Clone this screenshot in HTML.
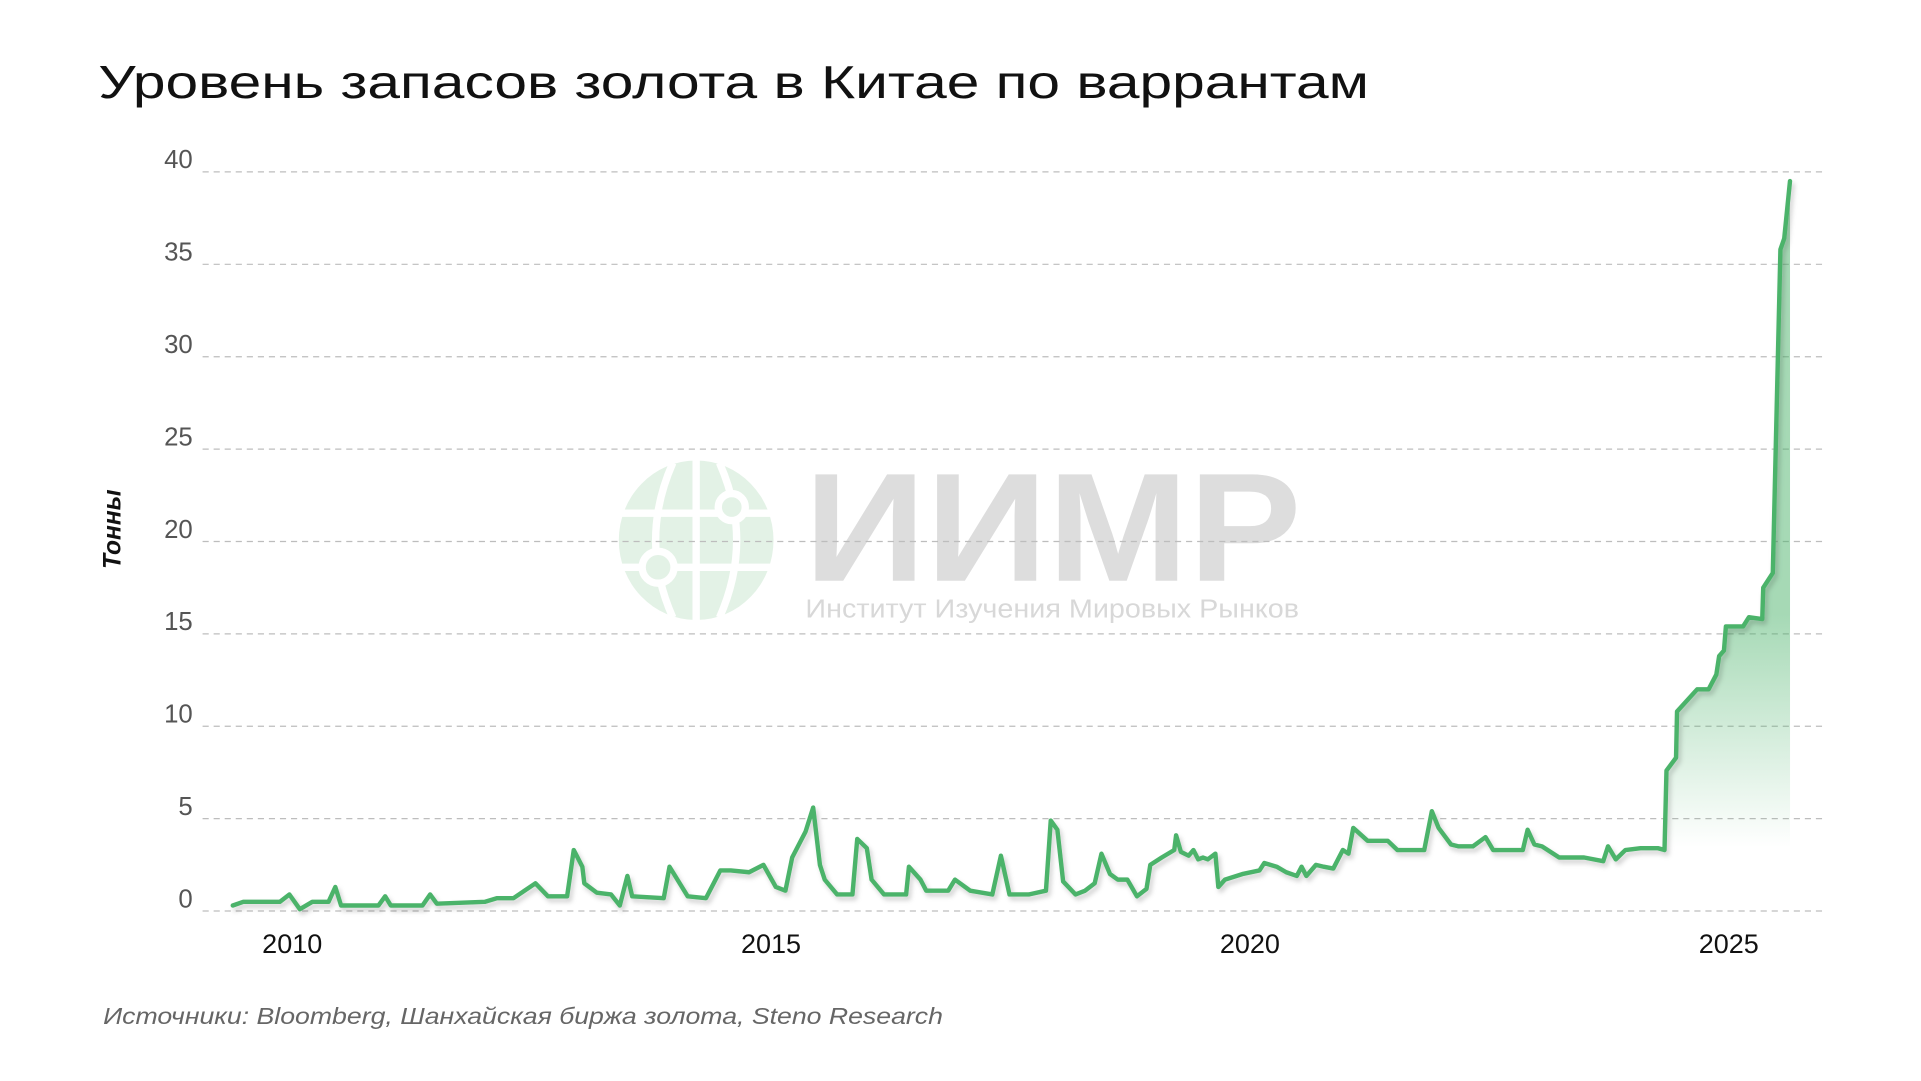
<!DOCTYPE html>
<html><head><meta charset="utf-8"><style>
html,body{margin:0;padding:0;background:#fff;}
svg{display:block;}
</style></head><body>
<svg id="chart" width="1921" height="1081" viewBox="0 0 1564.6 880.4" xmlns="http://www.w3.org/2000/svg">
<defs>
<linearGradient id="fillGrad" gradientUnits="userSpaceOnUse" x1="0" y1="500" x2="0" y2="690">
<stop offset="0" stop-color="#4cb36b" stop-opacity="0.5"/>
<stop offset="1" stop-color="#4cb36b" stop-opacity="0"/>
</linearGradient>
<filter id="shadow" x="-5%" y="-5%" width="110%" height="110%">
<feDropShadow dx="2" dy="3" stdDeviation="2" flood-color="#000" flood-opacity="0.18"/>
</filter>
</defs>
<rect width="1564.6" height="880.4" fill="#fff"/>
<text x="80" y="80" font-family="'Liberation Sans', sans-serif" font-size="38" fill="#111" textLength="1035" lengthAdjust="spacingAndGlyphs">Уровень запасов золота в Китае по варрантам</text>

<g id="watermark">
<ellipse cx="567" cy="440" rx="63" ry="65" fill="#e3f2e6"/>
<g stroke="#fff" stroke-width="6" fill="none">
<line x1="567" y1="374" x2="567" y2="506"/>
<path d="M548 377 Q520 440 548 503"/>
<path d="M586 377 Q614 440 586 503"/>
<line x1="505" y1="418" x2="629" y2="418"/>
<line x1="505" y1="462" x2="629" y2="462"/>
</g>
<circle cx="596" cy="413" r="11" fill="#e3f2e6" stroke="#fff" stroke-width="6"/>
<circle cx="536" cy="462" r="13" fill="#e3f2e6" stroke="#fff" stroke-width="6"/>
<text x="655" y="473" font-family="'Liberation Sans', sans-serif" font-weight="bold" font-size="126" fill="#dddddd" textLength="405" lengthAdjust="spacingAndGlyphs">ИИМР</text>
<text x="656" y="503" font-family="'Liberation Sans', sans-serif" font-size="21" fill="#d8d8d8" textLength="402" lengthAdjust="spacingAndGlyphs">Институт Изучения Мировых Рынков</text>
</g>

<g id="grid"></g>
<g id="yticks"></g>
<g id="xticks"></g>
<text transform="translate(98,431) rotate(-90)" text-anchor="middle" font-family="'Liberation Sans', sans-serif" font-weight="bold" font-style="italic" font-size="20" fill="#111">Тонны</text>
<g id="series"></g>
<text x="84" y="834" font-family="'Liberation Sans', sans-serif" font-style="italic" font-size="19" fill="#666" textLength="684" lengthAdjust="spacingAndGlyphs">Источники: Bloomberg, Шанхайская биржа золота, Steno Research</text>
</svg>
<script>
const yTickValues = [0,5,10,15,20,25,30,35,40];
const xTickLabels = ['2010','2015','2020','2025'];
const xTickYears = [2010,2015,2020,2025];
const dates = [2009.38,2009.49,2009.87,2009.97,2010.08,2010.21,2010.38,2010.45,2010.51,2010.90,2010.97,2011.03,2011.36,2011.44,2011.51,2012.01,2012.14,2012.31,2012.54,2012.67,2012.87,2012.94,2013.03,2013.05,2013.18,2013.33,2013.42,2013.50,2013.55,2013.88,2013.94,2014.13,2014.32,2014.42,2014.47,2014.58,2014.77,2014.92,2015.05,2015.15,2015.22,2015.36,2015.44,2015.51,2015.56,2015.69,2015.85,2015.90,2016.00,2016.05,2016.18,2016.41,2016.44,2016.56,2016.62,2016.85,2016.92,2017.08,2017.31,2017.40,2017.49,2017.69,2017.87,2017.92,2017.99,2018.05,2018.18,2018.28,2018.38,2018.45,2018.54,2018.62,2018.72,2018.82,2018.92,2018.96,2019.08,2019.21,2019.23,2019.28,2019.36,2019.41,2019.46,2019.51,2019.56,2019.64,2019.67,2019.74,2019.92,2020.10,2020.15,2020.28,2020.38,2020.49,2020.54,2020.59,2020.69,2020.77,2020.87,2020.97,2021.03,2021.08,2021.23,2021.44,2021.54,2021.82,2021.90,2021.97,2022.10,2022.18,2022.33,2022.46,2022.54,2022.85,2022.90,2022.97,2023.05,2023.23,2023.49,2023.69,2023.74,2023.82,2023.92,2024.08,2024.26,2024.33,2024.35,2024.45,2024.46,2024.67,2024.79,2024.87,2024.90,2024.95,2024.97,2025.15,2025.21,2025.35,2025.36,2025.46,2025.54,2025.58,2025.64];
const tonnes = [0.3,0.5,0.5,0.9,0.1,0.5,0.5,1.3,0.3,0.3,0.8,0.3,0.3,0.9,0.4,0.5,0.7,0.7,1.5,0.8,0.8,3.3,2.4,1.5,1.0,0.9,0.3,1.9,0.8,0.7,2.4,0.8,0.7,1.7,2.2,2.2,2.1,2.5,1.3,1.1,2.9,4.3,5.6,2.5,1.7,0.9,0.9,3.9,3.4,1.7,0.9,0.9,2.4,1.7,1.1,1.1,1.7,1.1,0.9,3.0,0.9,0.9,1.1,4.9,4.4,1.6,0.9,1.1,1.5,3.1,2.0,1.7,1.7,0.8,1.2,2.5,2.9,3.3,4.1,3.2,3.0,3.3,2.8,2.9,2.8,3.1,1.3,1.7,2.0,2.2,2.6,2.4,2.1,1.9,2.4,1.9,2.5,2.4,2.3,3.3,3.1,4.5,3.8,3.8,3.3,3.3,5.4,4.5,3.6,3.5,3.5,4.0,3.3,3.3,4.4,3.6,3.5,2.9,2.9,2.7,3.5,2.8,3.3,3.4,3.4,3.3,7.6,8.3,10.8,12.0,12.0,12.8,13.8,14.1,15.4,15.4,15.9,15.8,17.5,18.3,35.8,36.4,39.5];
const fillStartYear = 2024.35;

const NS='http://www.w3.org/2000/svg';
const yScale = v => 742 - v*15.05;
const xScale = t => 238 + (t-2010)*78;
function mk(tag, attrs, parent){const e=document.createElementNS(NS,tag);for(const k in attrs)e.setAttribute(k,attrs[k]);parent.appendChild(e);return e;}
const grid=document.getElementById('grid'), yt=document.getElementById('yticks'), xt=document.getElementById('xticks'), ser=document.getElementById('series');
yTickValues.forEach(v=>{
  const l=mk('line',{x1:165,x2:1488,y1:yScale(v),y2:yScale(v),stroke:'#bdbdbd','stroke-width':1,'stroke-dasharray':'5,4'},grid);
  
  
  const t=mk('text',{x:157,y:yScale(v)-3,'text-anchor':'end','font-family':"'Liberation Sans', sans-serif",'font-size':21,fill:'#555'},yt);
  t.textContent=v;
  
  
});
xTickYears.forEach((y,i)=>{
  const t=mk('text',{x:xScale(y),y:776,'text-anchor':'middle','font-family':"'Liberation Sans', sans-serif",'font-size':22,fill:'#111'},xt);
  t.textContent=xTickLabels[i];
  
  
});
const fillPts=[];
dates.forEach((d,i)=>{if(d>=fillStartYear)fillPts.push([xScale(d),yScale(tonnes[i])]);});
if(fillPts.length){
  const last=fillPts[fillPts.length-1], first=fillPts[0];
  const pts=fillPts.map(p=>p.join(',')).join(' ')+' '+last[0]+','+yScale(3)+' '+first[0]+','+yScale(3);
  const a=mk('polygon',{points:pts,fill:'url(#fillGrad)',stroke:'none'},ser);
  
  
}
const d=dates.map((t,i)=>(i?'L':'M')+xScale(t).toFixed(1)+' '+yScale(tonnes[i]).toFixed(1)).join(' ');
const p=mk('path',{d:d,fill:'none',stroke:'#4cb36b','stroke-width':3.6,'stroke-linejoin':'round','stroke-linecap':'round',filter:'url(#shadow)'},ser);


</script>
</body></html>
